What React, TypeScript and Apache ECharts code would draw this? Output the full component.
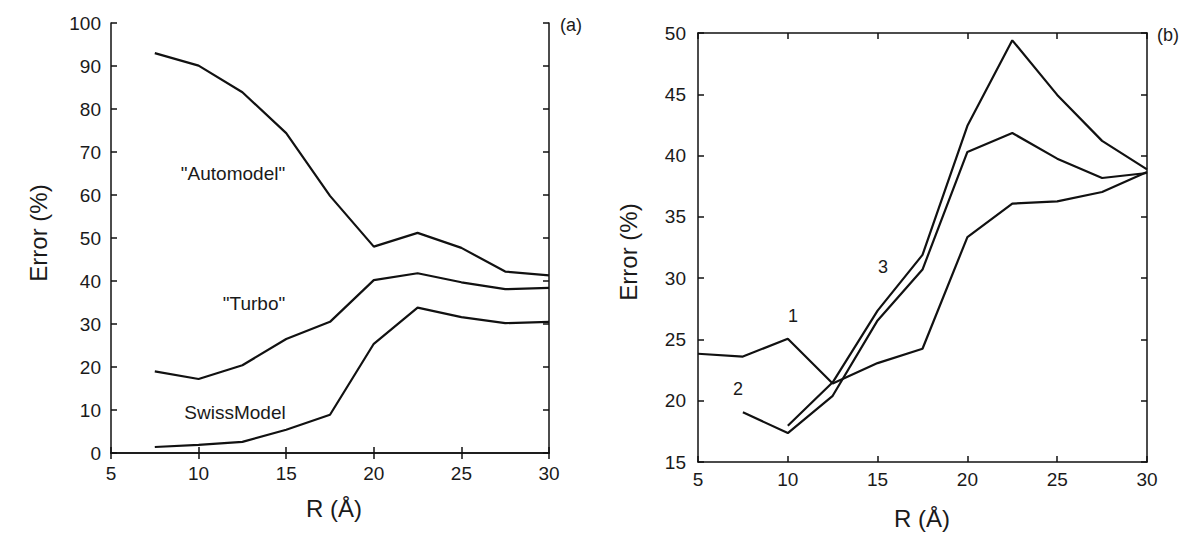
import React, { useEffect, useRef } from "react";
import * as echarts from "echarts";

// Panel (a)
const rA = [7.5, 10, 12.5, 15, 17.5, 20, 22.5, 25, 27.5, 30];
const automodel = [93.0, 90.1, 83.9, 74.4, 59.8, 48.0, 51.2, 47.7, 42.2, 41.3];
const turbo = [19.0, 17.2, 20.4, 26.5, 30.5, 40.2, 41.8, 39.7, 38.1, 38.4];
const swissModel = [1.4, 1.9, 2.6, 5.4, 8.9, 25.4, 33.8, 31.6, 30.2, 30.5];

// Panel (b)
const rB1 = [5, 7.5, 10, 12.5, 15, 17.5, 20, 22.5, 25, 27.5, 30];
const curve1 = [23.83, 23.6, 25.06, 21.4, 23.07, 24.24, 33.35, 36.08, 36.26, 37.03, 38.65];
const rB2 = [7.5, 10, 12.5, 15, 17.5, 20, 22.5, 25, 27.5, 30];
const curve2 = [19.06, 17.36, 20.4, 26.55, 30.7, 40.3, 41.84, 39.75, 38.17, 38.58];
const rB3 = [10, 12.5, 15, 17.5, 20, 22.5, 25, 27.5, 30];
const curve3 = [17.96, 21.5, 27.35, 31.9, 42.43, 49.4, 44.95, 41.2, 38.87];

const FONT = "'Liberation Sans', Arial, Helvetica, sans-serif";
const INK = "#111";
const TXT = "#1a1a1a";

const pairs = (xs: number[], ys: number[]) => xs.map((x, i) => [x, ys[i]]);

function makeAxes(gridIndex: number, yMin: number, yMax: number, yInt: number, xMargin: number, yMargin: number) {
  const axisLine = { show: true, lineStyle: { color: INK, width: 1.5 } };
  const tick = { show: true, inside: true, length: 6, lineStyle: { color: INK, width: 1.5 } };
  const label = { color: TXT, fontFamily: FONT, fontSize: 19 };
  const xAxes = [
    {
      type: "value", gridIndex, min: 5, max: 30, interval: 5, position: "bottom",
      axisLine, axisTick: tick, splitLine: { show: false },
      axisLabel: { ...label, margin: xMargin },
    },
    {
      type: "value", gridIndex, min: 5, max: 30, interval: 5, position: "top",
      axisLine, axisTick: tick, splitLine: { show: false }, axisLabel: { show: false },
    },
  ];
  const yAxes = [
    {
      type: "value", gridIndex, min: yMin, max: yMax, interval: yInt, position: "left",
      axisLine, axisTick: tick, splitLine: { show: false },
      axisLabel: { ...label, margin: yMargin },
    },
    {
      type: "value", gridIndex, min: yMin, max: yMax, interval: yInt, position: "right",
      axisLine, axisTick: tick, splitLine: { show: false }, axisLabel: { show: false },
    },
  ];
  return { xAxes, yAxes };
}

export default function App() {
  const ref = useRef<HTMLDivElement>(null);
  useEffect(() => {
    if (!ref.current) return;
    const chart = echarts.init(ref.current, undefined, { renderer: "svg" });
    const a = makeAxes(0, 0, 100, 10, 11, 10);
    const b = makeAxes(1, 15, 50, 5, 8, 12);
    const line = (name: string, xi: number, yi: number, data: number[][]) => ({
      name, type: "line", xAxisIndex: xi, yAxisIndex: yi, data,
      symbol: "none", lineStyle: { color: INK, width: 2.2 }, itemStyle: { color: INK },
      silent: true,
    });
    const txt = (text: string, x: number, y: number, fontSize: number, rotation = 0) => ({
      type: "text", x, y, rotation,
      style: { text, fill: TXT, font: `${fontSize}px ${FONT}`, textAlign: "center", textVerticalAlign: "middle" },
    });
    chart.setOption({
      animation: false,
      backgroundColor: "#fff",
      grid: [
        { left: 111, top: 23, right: 651, bottom: 87, containLabel: false },
        { left: 698, top: 33, right: 53, bottom: 78, containLabel: false },
      ],
      xAxis: [...a.xAxes, ...b.xAxes],
      yAxis: [...a.yAxes, ...b.yAxes],
      series: [
        line("Automodel", 0, 0, pairs(rA, automodel)),
        line("Turbo", 0, 0, pairs(rA, turbo)),
        line("SwissModel", 0, 0, pairs(rA, swissModel)),
        line("1", 2, 2, pairs(rB1, curve1)),
        line("2", 2, 2, pairs(rB2, curve2)),
        line("3", 2, 2, pairs(rB3, curve3)),
      ],
      graphic: [
        txt("Error (%)", 38, 233, 24, Math.PI / 2),
        txt("Error (%)", 628, 252, 24, Math.PI / 2),
        txt("R (Å)", 334, 508, 24),
        txt("R (Å)", 922, 518, 24),
        txt('"Automodel"', 233, 173, 19),
        txt('"Turbo"', 254, 303, 19),
        txt("SwissModel", 235, 412, 19),
        txt("(a)", 571, 25, 18),
        txt("(b)", 1168, 35, 18),
        txt("1", 793, 316, 18),
        txt("2", 738, 389, 18),
        txt("3", 883, 267, 18),
      ],
    });
    return () => chart.dispose();
  }, []);
  return <div ref={ref} style={{ width: 1200, height: 540, position: "absolute", left: 0, top: 0 }} />;
}
